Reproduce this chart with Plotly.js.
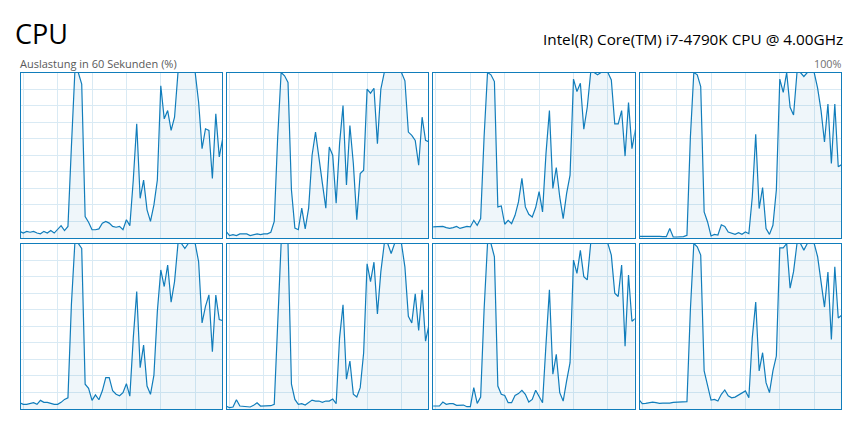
<!DOCTYPE html>
<html><head><meta charset="utf-8">
<script src="https://cdn.plot.ly/plotly-3.0.1.min.js"></script>
<style>html,body{margin:0;padding:0;background:#fff;overflow:hidden}#chart{width:860px;height:438px}</style>
</head><body><div id="chart"></div>
<script>
// seconds index of each sample (one sample per second)
const seconds = Array.from({length: 60}, (_, k) => k - 1);

const core0 = [4,3,4,3.5,4,3,2.5,4,3,4.5, 3,5,7.5,4.5,7,55,100,100,93,13, 9.5,5,5,5.5,9,10,9,7,6.5,7, 5,11,7.5,35,69,24,35,17,10,20, 35,92,72,77,65,73,100,100,100,100, 100,100,82,54,66,65,36,75,49,60];
const core1 = [4,1.5,2,1.5,2.5,2.5,2.5,1.5,2,2.5, 2,2.5,2.5,3.5,10,61,100,98,94,29, 6,5,18,5.5,18,50,64,47,33,18, 55,50,21,57,80,32,68,45,11,39, 41,90,87.5,90.5,57,90,100,100,100,100, 100,100,95,64,62,59,44,73,59,58];
const core2 = [6.7,6.7,6.7,7,6.3,5.8,6.3,7,5.8,6.3, 7,6.7,10.7,7.7,11.7,61,100,98.6,94.5,18.8, 19.4,8.3,10.7,8.7,13.7,21.8,36,18.8,14.3,12.7, 18.4,28,15.8,51,77,30,42.6,24.8,11.7,27, 38,96,88.5,93.5,65.7,79,100,100,98.6,100, 100,100,95.5,69,69,77,49.5,81.8,54,65.7];
const core3 = [1,1,1,1.2,1.4,1,1,0.8,0.8,5.7, 0.6,0.6,0.6,0.8,1.6,61,100,98.6,91.5,15.8, 9.7,1.2,2.2,1.8,8,7,3.6,3,2.2,3.2, 2.2,3.6,2.6,24.8,62.6,17.8,30.5,5.7,2.2,7.7, 29,96,88,100,79,74.3,100,100,97.6,100, 100,100,90.5,77,58,81,45,81,43,44.4];
const core4 = [3.8,2.8,2.8,3.4,3.8,2.8,5.2,4,4,3.4, 2.8,2.8,4,5.8,6.8,63,100,100,97,15, 12.5,5.2,8.5,5.6,11,19,19,11,8.9,8, 9.9,15.3,7.8,43,71,25,38.6,13.9,8.9,20.5, 59,84,74,87,64.6,77,100,100,97,100, 100,100,89,52,62,69,34.6,68.8,54,53.5];
const core5 = [1.8,0.8,1.2,5.6,1.8,1.6,1.2,1.2,2.2,3.8, 1.8,2,2.2,2,2.8,55,100,100,100,15, 5.8,2.8,3.2,2.4,3.8,5.4,4.8,4.8,4,4.8, 4.8,6,3.2,43,63,18,29,8.9,7.2,12.9, 34,87.7,77,88.7,57.5,83,100,100,94,100, 100,100,85.7,56,52,69.6,47.5,72,41,51];
const core6 = [1.8,1.8,1.8,4.2,2.8,3.2,3.2,2.2,2.2,2.4, 1.4,1.4,12.9,3.4,7.2,60,100,100,92,13.9, 8.9,8.2,3.8,3.8,8.2,9.3,11.3,8.9,4.2,5.8, 11.3,7.8,3.8,39,72,21,33,9.9,4.8,17, 28,90,82,95.8,80,78,100,100,100,100, 100,100,93,70,68,87,38,81,53,54.7];
const core7 = [5.8,3.2,3.4,3.8,4.2,3.8,3.4,3.6,3.4,3.6, 4,4,4,4.4,4.4,60,100,98,93,23, 15,5.4,5.8,4.8,8.9,11.5,8,6.8,7.2,8.4, 9.9,10.9,6.8,43,64.6,23,34,15.9,9.9,23, 32,97.4,97.4,100,73,83,100,100,96,100, 100,100,92,75,61.6,82.7,42,86,55,56.7];

const titleText = 'CPU';
const cpuName = 'Intel(R) Core(TM) i7-4790K CPU @ 4.00GHz';
const subtitleText = 'Auslastung in 60 Sekunden (%)';
const maxLabel = '100%';

const cores = [core0, core1, core2, core3, core4, core5, core6, core7];

const W = 860, H = 438;
const colLeft = [20.5, 226.8, 433.2, 639.5], colW = 201.5;
const rowTop = [72.5, 243.5], rowH = 165.5;
const FONT = 'Open Sans, Noto Sans, sans-serif';

const traces = [];
const layout = {
  width: W, height: H,
  margin: {l: 0, r: 0, t: 0, b: 0, pad: 0},
  showlegend: false,
  paper_bgcolor: '#ffffff', plot_bgcolor: '#ffffff',
  annotations: [
    {text: titleText, xref: 'paper', yref: 'paper', x: 13/W, y: 1 - 34/H, xanchor: 'left', yanchor: 'middle', showarrow: false, font: {family: FONT, size: 27, color: '#000000'}},
    {text: cpuName, xref: 'paper', yref: 'paper', x: 845/W, y: 1 - 39/H, xanchor: 'right', yanchor: 'middle', showarrow: false, font: {family: FONT, size: 15.3, color: '#000000'}},
    {text: subtitleText, xref: 'paper', yref: 'paper', x: 18/W, y: 1 - 63.5/H, xanchor: 'left', yanchor: 'middle', showarrow: false, font: {family: FONT, size: 11, color: '#595959'}},
    {text: maxLabel, xref: 'paper', yref: 'paper', x: 844/W, y: 1 - 63.5/H, xanchor: 'right', yanchor: 'middle', showarrow: false, font: {family: FONT, size: 10.8, color: '#707070'}}
  ]
};

cores.forEach((vals, i) => {
  const r = Math.floor(i / 4), c = i % 4, n = i + 1;
  const sx = n === 1 ? '' : String(n);
  traces.push({
    x: seconds, y: vals, xaxis: 'x' + sx, yaxis: 'y' + sx,
    type: 'scatter', mode: 'lines',
    line: {color: '#117DBB', width: 1.2},
    fill: 'tozeroy', fillcolor: 'rgba(17,125,187,0.065)',
    hoverinfo: 'skip'
  });
  const common = {
    showticklabels: false, ticks: '', showgrid: true, gridcolor: '#D9EAF4', gridwidth: 1,
    zeroline: false, showline: true, linecolor: '#117DBB', linewidth: 1, mirror: true, fixedrange: true
  };
  layout['xaxis' + sx] = Object.assign({}, common, {
    domain: [colLeft[c] / W, (colLeft[c] + colW) / W],
    range: [-0.8, 57.8], tick0: 0, dtick: 10, anchor: 'y' + sx
  });
  layout['yaxis' + sx] = Object.assign({}, common, {
    domain: [1 - (rowTop[r] + rowH) / H, 1 - rowTop[r] / H],
    range: [0, 100], tick0: 0, dtick: 10, anchor: 'x' + sx
  });
});

Plotly.newPlot('chart', traces, layout, {displayModeBar: false, staticPlot: true});
</script>
</body></html>
